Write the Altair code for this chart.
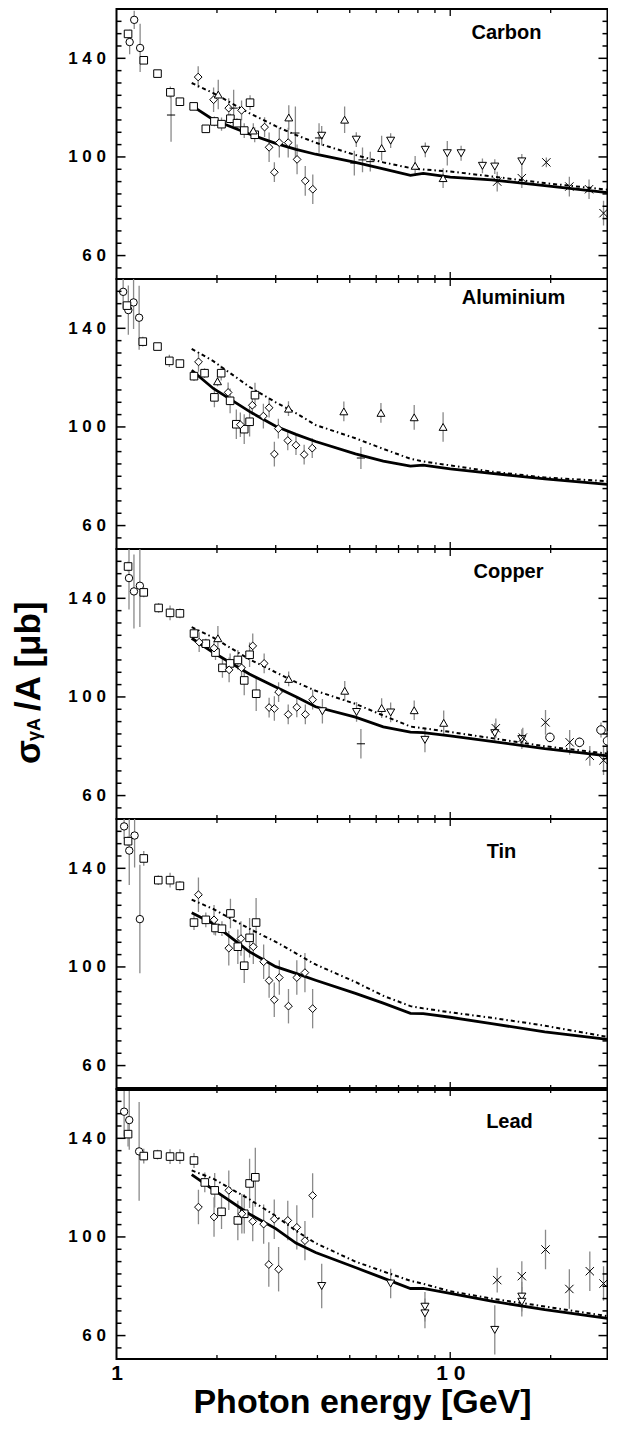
import altair as alt
import pandas as pd

FONT = "Liberation Sans, Arial, Helvetica, sans-serif"

# ---------------- data ----------------
E_FIT = [1.68, 1.95, 2.5, 3.0, 3.45, 3.95, 5.2, 6.3, 7.6, 8.3, 10.0, 13.3, 19.2, 29.6]

# symbol codes: o circle, s square, d diamond, ^ triangle up, v triangle down,
# + plus, x cross, c small circle
CARBON_E = [
    1.095, 1.13, 1.177,
    1.083, 1.207, 1.327, 1.45, 1.549, 1.703, 1.852, 1.965, 2.064, 2.194, 2.296, 2.414, 2.513, 2.595,
    1.757, 1.954, 2.169, 2.37, 2.778, 2.866, 2.972, 3.075, 3.27, 3.476, 3.678, 3.874,
    2.018, 2.57, 3.283, 4.826, 6.23, 7.85, 9.52,
    4.12, 5.23, 6.63, 8.42, 9.8, 10.78, 12.49, 13.6, 16.39,
    1.457, 2.244, 3.436, 4.045, 5.16, 5.46, 5.76,
    13.83, 16.39, 19.41, 22.75, 26.06, 28.8,
]
CARBON_SIG = [
    146.6, 155.6, 144.2,
    149.9, 139.2, 133.8, 126.2, 122.4, 120.5, 111.4, 114.4, 113.3, 115.5, 113.7, 110.7, 122.0, 109.0,
    132.4, 123.2, 119.8, 118.9, 112.1, 103.9, 93.8, 105.8, 105.8, 99.0, 90.3, 86.9,
    125.3, 110.7, 116.0, 115.1, 103.6, 96.4, 91.4,
    108.6, 107.0, 106.6, 102.9, 101.5, 101.5, 96.4, 96.1, 98.2,
    117.0, 119.8, 109.7, 107.7, 97.5, 98.8, 98.1,
    90.0, 91.4, 97.8, 88.0, 86.9, 77.2,
]
CARBON_ERR = [
    5, 3.7, 9.8,
    1, 1, 1, 2.4, 1, 1, 1.5, 2, 2.7, 2, 2, 3, 3, 3,
    4.4, 5, 4, 4, 4, 6, 4, 6, 6, 6, 6, 6,
    6, 3, 5, 5.4, 5, 4, 4,
    4, 3, 3, 3, 5, 3, 3, 3, 3,
    10.8, 7.5, 10.8, 6, 5, 5, 4,
    4, 4, 2, 4, 4, 5,
]
CARBON_SYM = "ooo" + "s" * 14 + "d" * 12 + "^" * 7 + "v" * 9 + "+" * 7 + "x" * 6
CARBON_SOLID = [120.8, 115.1, 109.3, 105.5, 103.1, 101.1, 97.8, 95.2, 92.5, 93.3, 91.8, 90.7, 88.4, 85.5]
CARBON_DOTTED = [130.0, 125.9, 117.8, 112.5, 108.9, 105.8, 100.8, 97.8, 95.5, 94.9, 94.1, 92.1, 89.4, 86.7]

AL_E = [
    1.047, 1.085, 1.125, 1.169,
    1.075, 1.199, 1.327, 1.44, 1.549, 1.707, 1.836, 1.965, 2.059, 2.19, 2.286, 2.414, 2.505, 2.6,
    1.761, 2.16, 2.35, 2.553, 2.755, 2.866, 2.972, 3.055, 3.26, 3.45, 3.65, 3.86,
    2.008, 3.276, 4.8, 6.2, 7.8, 9.52,
    5.4,
]
AL_SIG = [
    154.8, 147.4, 150.5, 144.3,
    149.2, 134.6, 132.6, 126.8, 125.7, 120.6, 121.8, 112.0, 121.8, 110.6, 101.1, 99.1, 102.1, 112.9,
    126.4, 114.0, 100.9, 108.8, 104.4, 107.8, 89.0, 99.3, 94.5, 92.6, 88.8, 91.4,
    118.5, 107.4, 106.3, 105.7, 103.9, 100.0,
    87.4,
]
AL_ERR = [
    6.7, 10, 10.8, 13,
    1, 2, 1, 2.5, 1.5, 2, 2, 4, 3, 5, 6, 6, 6, 5,
    4, 4, 5, 4, 5, 4, 5, 4, 4, 4, 4, 4,
    2, 3, 4, 4, 5, 6,
    4.5,
]
AL_SYM = "oooo" + "s" * 14 + "d" * 12 + "^" * 6 + "+"
AL_SOLID = [123.0, 115.6, 106.3, 100.3, 97.0, 94.1, 89.1, 86.1, 84.1, 84.5, 83.0, 81.2, 78.9, 76.7]
AL_DOTTED = [131.7, 126.7, 116.3, 110.0, 105.6, 100.8, 95.4, 91.1, 87.1, 86.0, 84.4, 81.9, 79.5, 78.0]

CU_E = [
    1.09, 1.128, 1.175,
    1.083, 1.207, 1.337, 1.447, 1.549, 1.707, 1.852, 1.98, 2.077, 2.19, 2.31, 2.414, 2.505, 2.622,
    1.769, 1.96, 2.175, 2.37, 2.56, 2.77, 2.866, 2.972, 3.06, 3.27, 3.47, 3.68, 3.87,
    2.013, 3.28, 4.83, 6.23, 7.8, 9.56,
    4.14, 5.24, 6.63, 8.4, 13.6, 16.39,
    5.4,
    13.7, 16.5, 19.3, 22.8, 26.2, 28.8,
    19.9, 24.4, 28.3, 29.6,
]
CU_SIG = [
    148.2, 142.8, 145.1,
    152.9, 142.4, 136.1, 134.1, 133.9, 125.7, 121.6, 118.0, 111.8, 113.6, 115.0, 106.7, 117.1, 101.3,
    122.2, 119.8, 111.0, 111.8, 120.7, 113.6, 95.7, 95.3, 102.0, 92.9, 95.8, 92.9, 98.9,
    123.8, 107.3, 102.5, 95.5, 94.6, 89.5,
    94.2, 93.9, 93.7, 82.6, 85.3, 82.9,
    81.0,
    87.3, 83.5, 89.7, 81.6, 76.1, 74.3,
    83.6, 81.6, 86.6, 82.2,
]
CU_ERR = [
    12.7, 15, 16.7,
    2, 2, 2, 3, 2, 2, 2, 3, 4, 4, 4, 6, 5, 7,
    4, 3, 5, 4, 5, 4, 4, 5, 4, 4, 4, 4, 4,
    5, 3, 4, 4, 4, 5,
    5, 4, 4, 5, 4, 4,
    6,
    4, 4, 5, 5, 4, 6,
    2, 2, 3, 4,
]
CU_SYM = "ooo" + "s" * 14 + "d" * 13 + "^" * 6 + "v" * 6 + "+" + "x" * 6 + "cccc"
CU_SOLID = [123.8, 118.0, 109.3, 104.0, 100.1, 96.0, 91.8, 87.9, 85.7, 85.5, 84.2, 82.0, 79.0, 76.1]
CU_DOTTED = [128.3, 124.1, 115.3, 110.0, 106.0, 102.5, 97.2, 92.5, 88.0, 87.3, 85.8, 83.3, 80.0, 77.0]

SN_E = [
    1.054, 1.092, 1.133, 1.175,
    1.083, 1.207, 1.334, 1.447, 1.549, 1.707, 1.852, 1.98, 2.07, 2.195, 2.31, 2.414, 2.505, 2.62,
    1.76, 1.96, 2.17, 2.36, 2.57, 2.76, 2.866, 2.97, 3.075, 3.276, 3.47, 3.67, 3.87,
]
SN_SIG = [
    157.0, 147.2, 153.3, 119.4,
    151.0, 144.0, 135.2, 135.2, 132.9, 118.0, 119.1, 115.8, 115.5, 121.7, 108.2, 100.5, 111.8, 118.0,
    129.3, 119.1, 107.6, 111.5, 108.2, 102.1, 94.5, 86.7, 95.7, 84.1, 95.7, 97.7, 83.1,
]
SN_ERR = [
    5, 14, 13, 22,
    2, 3, 2, 3, 2, 3, 3, 3, 3, 6, 7, 7, 8, 10,
    7, 6, 7, 7, 7, 7, 7, 7, 7, 7, 7, 8, 8,
]
SN_SYM = "oooo" + "s" * 14 + "d" * 13
SN_SOLID = [122.0, 117.5, 106.2, 100.1, 97.4, 94.6, 89.3, 85.3, 81.2, 81.1, 79.6, 77.0, 73.7, 70.6]
SN_DOTTED = [127.3, 123.5, 115.5, 110.2, 105.5, 101.0, 93.9, 88.3, 84.1, 83.2, 81.6, 79.4, 76.2, 71.6]

PB_E = [
    1.054, 1.092, 1.169,
    1.083, 1.207, 1.327, 1.447, 1.549, 1.707, 1.839, 1.969, 2.064, 2.31, 2.414, 2.505, 2.606,
    1.76, 1.96, 2.17, 2.375, 2.56, 2.76, 2.86, 2.97, 3.06, 3.26, 3.47, 3.67, 3.87,
    4.12, 6.63, 8.4, 8.4, 13.6, 16.39, 16.39,
    13.83, 16.39, 19.3, 22.75, 26.2, 28.8,
]
PB_SIG = [
    150.8, 147.4, 134.7,
    141.7, 132.8, 133.4, 132.6, 132.6, 131.0, 122.1, 118.9, 110.2, 106.7, 109.4, 121.7, 124.2,
    112.1, 108.1, 118.9, 109.4, 106.3, 105.2, 88.8, 107.2, 86.9, 106.7, 103.9, 98.5, 116.8,
    80.1, 81.1, 71.7, 69.0, 62.3, 75.8, 73.7,
    82.5, 84.1, 94.9, 78.9, 86.1, 81.1,
]
PB_ERR = [
    10, 12, 20,
    5, 3, 2, 3, 3, 3, 4, 7, 7, 8, 8, 10, 12,
    7, 8, 8, 8, 8, 8, 9, 8, 9, 8, 9, 8, 9,
    9, 6, 6, 6, 10, 6, 6,
    5, 6, 8, 8, 8, 7,
]
PB_SYM = "ooo" + "s" * 13 + "d" * 13 + "v" * 7 + "x" * 6
PB_SOLID = [125.3, 119.2, 109.3, 103.4, 97.5, 93.7, 87.6, 83.3, 79.1, 79.1, 77.1, 74.0, 70.5, 67.0]
PB_DOTTED = [127.0, 123.6, 115.3, 108.5, 102.5, 97.5, 90.0, 86.0, 82.2, 81.0, 78.0, 75.0, 71.8, 67.9]

Y_MAJOR_TICKS = [60, 100, 140]
Y_MINOR_TICKS = [55, 65, 70, 75, 80, 85, 90, 95, 105, 110, 115, 120, 125, 130, 135, 145, 150, 155]
X_MAJOR_TICKS = [10]
X_MINOR_TICKS = [2, 3, 4, 5, 6, 7, 8, 9, 20]

SYM_CODES = ["o", "s", "d", "^", "v", "+", "x", "c"]
SYM_SHAPES = ["circle", "square", "diamond", "triangle-up", "triangle-down",
              "M-1,0L1,0", "M-1,-1L1,1M-1,1L1,-1", "circle"]
SYM_SIZES = [55, 72, 56, 60, 60, 70, 42, 30]

# ---------------- chart ----------------
W, H = 491, 270
XS = alt.Scale(type="log", domain=[1, 29.6], nice=False)
YS = alt.Scale(domain=[50.5, 160], zero=False, nice=False)

Y_AXIS = alt.Axis(values=Y_MAJOR_TICKS, ticks=False, tickSize=0, domain=False, grid=False,
                  labelExpr="datum.value == 140 ? '1 4 0' : datum.value == 100 ? '1 0 0' : '6 0'",
                  labelFont=FONT, labelFontWeight="bold", labelFontSize=17, labelColor="black",
                  labelPadding=11, title=None)
X_AXIS_BOTTOM = alt.Axis(values=[1, 10], ticks=False, tickSize=0, domain=False, grid=False,
                         labelExpr="datum.value == 10 ? '1 0' : '1'", labelFlush=False,
                         labelFont=FONT, labelFontWeight="bold", labelFontSize=21, labelColor="black",
                         labelPadding=3, title="Photon energy [GeV]", titleFont=FONT,
                         titleFontWeight="bold", titleFontSize=34, titleColor="black", titlePadding=2)


def tick_layers(xax):
    layers = []
    for vals, ln in ((Y_MAJOR_TICKS, 9), (Y_MINOR_TICKS, 5)):
        d = pd.DataFrame({"v": vals})
        layers.append(alt.Chart(d).mark_rule(color="black", strokeWidth=1.5).encode(
            y=alt.Y("v:Q", scale=YS, axis=Y_AXIS), x=alt.value(0), x2=alt.value(ln)))
        layers.append(alt.Chart(d).mark_rule(color="black", strokeWidth=1.5).encode(
            y=alt.Y("v:Q", scale=YS, axis=Y_AXIS), x=alt.value(W - ln), x2=alt.value(W)))
    for vals, ln in ((X_MAJOR_TICKS, 7), (X_MINOR_TICKS, 4)):
        d = pd.DataFrame({"v": vals})
        layers.append(alt.Chart(d).mark_rule(color="black", strokeWidth=1.3).encode(
            x=alt.X("v:Q", scale=XS, axis=xax), y=alt.value(0), y2=alt.value(ln)))
        layers.append(alt.Chart(d).mark_rule(color="black", strokeWidth=1.3).encode(
            x=alt.X("v:Q", scale=XS, axis=xax), y=alt.value(H - ln), y2=alt.value(H)))
    return layers


def panel(label, lx, ly, E, S, ERR, SYM, solid, dotted, bottom=False, ytitle=False, thick_top=False):
    assert len(E) == len(S) == len(ERR) == len(SYM), label
    pts = pd.DataFrame({"E": E, "sig": S, "lo": [s - e for s, e in zip(S, ERR)],
                        "hi": [s + e for s, e in zip(S, ERR)], "sym": list(SYM)})
    cur = pd.DataFrame({"E": E_FIT, "solid": solid, "dotted": dotted})
    xax = X_AXIS_BOTTOM if bottom else None

    err = alt.Chart(pts).mark_rule(color="#8a8a8a", strokeWidth=1.3, clip=True).encode(
        x=alt.X("E:Q", scale=XS, axis=xax),
        y=alt.Y("lo:Q", scale=YS, axis=Y_AXIS),
        y2="hi:Q")
    sol = alt.Chart(cur).mark_line(color="black", strokeWidth=2.8, clip=True).encode(
        x=alt.X("E:Q", scale=XS, axis=xax), y=alt.Y("solid:Q", scale=YS, axis=Y_AXIS))
    dot = alt.Chart(cur).mark_line(color="black", strokeWidth=2.0, strokeDash=[4, 3, 1.5, 3],
                                   clip=True).encode(
        x=alt.X("E:Q", scale=XS, axis=xax), y=alt.Y("dotted:Q", scale=YS, axis=Y_AXIS))
    mk = alt.Chart(pts).mark_point(filled=True, fill="white", stroke="black", strokeWidth=1,
                                   opacity=1, clip=True).encode(
        x=alt.X("E:Q", scale=XS, axis=xax),
        y=alt.Y("sig:Q", scale=YS, axis=Y_AXIS),
        shape=alt.Shape("sym:N", scale=alt.Scale(domain=SYM_CODES, range=SYM_SHAPES), legend=None),
        size=alt.Size("sym:N", scale=alt.Scale(domain=SYM_CODES, range=SYM_SIZES), legend=None))
    lab = alt.Chart(pd.DataFrame({"t": [label]})).mark_text(
        font=FONT, fontWeight="bold", fontSize=20, color="black", align="center",
        baseline="middle").encode(text="t:N", x=alt.value(lx), y=alt.value(ly))

    layers = [err, sol, dot, mk] + tick_layers(xax) + [lab]
    if thick_top:
        layers.append(alt.Chart(pd.DataFrame({"t": [0]})).mark_rule(color="black", strokeWidth=4).encode(
            x=alt.value(0), x2=alt.value(W), y=alt.value(0)))
    if ytitle:
        for txt, size, yy in (("σ", 35, 215), ("γA", 18, 192), ("/A [μb]", 35, 162)):
            layers.append(alt.Chart(pd.DataFrame({"t": [txt]})).mark_text(
                font=FONT, fontWeight="bold", fontSize=size, color="black", angle=270,
                align="left", baseline="alphabetic").encode(
                text="t:N", x=alt.value(-77), y=alt.value(yy)))
    return alt.layer(*layers).properties(width=W, height=H)


p1 = panel("Carbon", 390, 24, CARBON_E, CARBON_SIG, CARBON_ERR, CARBON_SYM, CARBON_SOLID, CARBON_DOTTED)
p2 = panel("Aluminium", 397, 19, AL_E, AL_SIG, AL_ERR, AL_SYM, AL_SOLID, AL_DOTTED)
p3 = panel("Copper", 392, 23, CU_E, CU_SIG, CU_ERR, CU_SYM, CU_SOLID, CU_DOTTED, ytitle=True)
p4 = panel("Tin", 385, 33, SN_E, SN_SIG, SN_ERR, SN_SYM, SN_SOLID, SN_DOTTED)
p5 = panel("Lead", 393, 33, PB_E, PB_SIG, PB_ERR, PB_SYM, PB_SOLID, PB_DOTTED, bottom=True, thick_top=True)

chart = alt.vconcat(p1, p2, p3, p4, p5, spacing=0, bounds="flush").properties(
    padding={"left": 2.5, "top": -1, "right": -3, "bottom": 8}
).configure(
    font=FONT,
    view=alt.ViewConfig(stroke="black", strokeWidth=2),
)

chart.save("out.html", embed_options={"renderer": "svg", "actions": False})
